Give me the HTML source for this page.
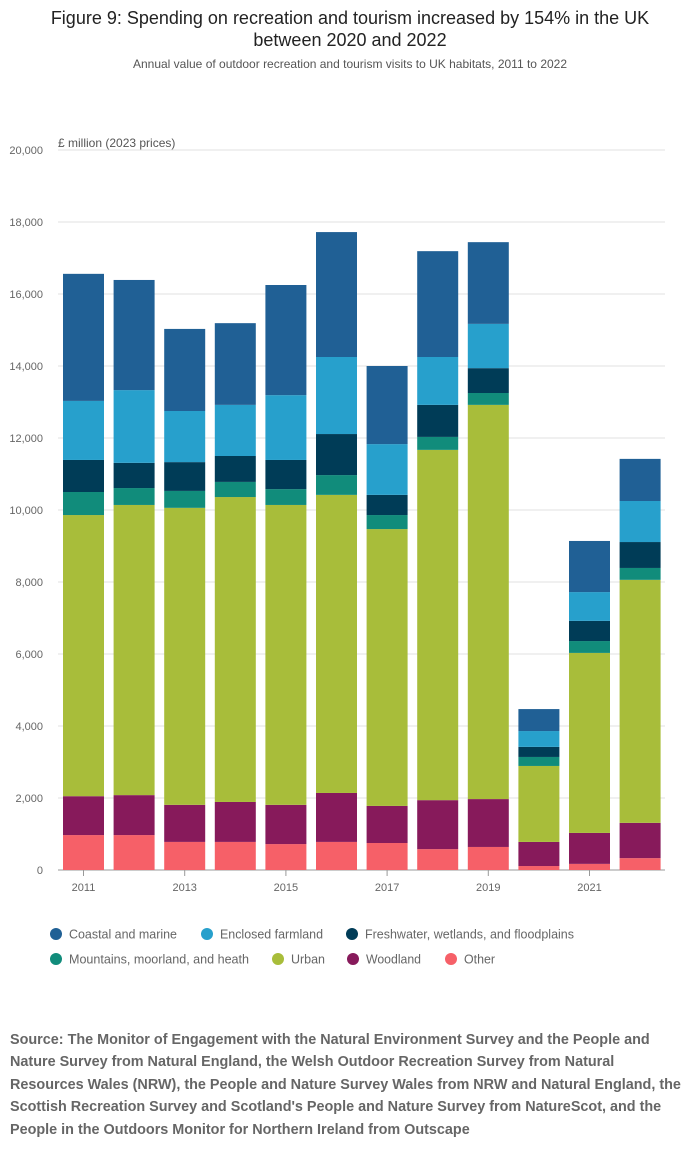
<!DOCTYPE html>
<html><head><meta charset="utf-8"><style>
body{margin:0;width:700px;height:1167px;background:#fff;font-family:"Liberation Sans",sans-serif;overflow:hidden}
svg text{font-family:"Liberation Sans",sans-serif}
</style></head><body>
<svg width="700" height="1167">
<text x="350" y="24" font-size="18" text-anchor="middle" fill="#222">Figure 9: Spending on recreation and tourism increased by 154% in the UK</text>
<text x="350" y="46" font-size="18" text-anchor="middle" fill="#222">between 2020 and 2022</text>
<text x="350" y="68" font-size="12" text-anchor="middle" fill="#555">Annual value of outdoor recreation and tourism visits to UK habitats, 2011 to 2022</text>
<text x="58" y="147" font-size="12" fill="#555">£ million (2023 prices)</text>
<g id="grid"></g><g id="bars"></g><g id="axes"></g><g id="legend"></g>
</svg>
<div style="position:absolute;left:10px;top:1029px;width:690px;font-size:14.4px;font-weight:bold;color:#666;line-height:22.4px;white-space:nowrap">Source: The Monitor of Engagement with the Natural Environment Survey and the People and<br>Nature Survey from Natural England, the Welsh Outdoor Recreation Survey from Natural<br>Resources Wales (NRW), the People and Nature Survey Wales from NRW and Natural England, the<br>Scottish Recreation Survey and Scotland's People and Nature Survey from NatureScot, and the<br>People in the Outdoors Monitor for Northern Ireland from Outscape</div>
<script>
const years=["2011","2012","2013","2014","2015","2016","2017","2018","2019","2020","2021","2022"];
const seriesNames=["Other","Woodland","Urban","Mountains, moorland, and heath","Freshwater, wetlands, and floodplains","Enclosed farmland","Coastal and marine"];
const other=[970,970,780,780,720,780,750,580,640,110,170,330];
const woodland=[1080,1110,1030,1110,1090,1360,1030,1360,1330,670,860,980];
const urban=[7810,8060,8250,8470,8330,8280,7690,9730,10950,2110,5000,6750];
const mountains=[640,470,470,420,440,550,390,360,330,250,330,330];
const freshwater=[890,700,800,720,810,1140,560,890,690,280,560,720];
const farmland=[1640,2020,1420,1420,1800,2140,1410,1330,1230,440,800,1140];
const coastal=[3530,3060,2280,2270,3060,3470,2170,2940,2270,610,1420,1170];
const yTicks=[0,2000,4000,6000,8000,10000,12000,14000,16000,18000,20000];
const colors=["#f66068","#871a5b","#a8bd3a","#118c7b","#003c57","#27a0cc","#206095"];
const series=[other,woodland,urban,mountains,freshwater,farmland,coastal];
const NS="http://www.w3.org/2000/svg";
const y=v=>870-v*0.036, x=i=>83.5+i*50.6, bw=41;
function mk(t,a,p){const e=document.createElementNS(NS,t);for(const k in a)e.setAttribute(k,a[k]);p.appendChild(e);return e;}
const g=document.getElementById('grid');
yTicks.forEach(v=>{
 const l=mk('line',{x1:58,x2:665,y1:y(v),y2:y(v),stroke:v?'#e0e0e0':'#999','stroke-width':1},g);
 
 
 const t=mk('text',{x:43,y:y(v)+4,'font-size':11,'text-anchor':'end',fill:'#666'},g);t.textContent=v.toLocaleString('en-GB');
 
 
});
const b=document.getElementById('bars');
years.forEach((yr,i)=>{let c=0;series.forEach((s,k)=>{
 const r=mk('rect',{x:x(i)-bw/2,y:y(c+s[i]),width:bw,height:s[i]*0.036,fill:colors[k]},b);
 
 
 c+=s[i];});});
const a=document.getElementById('axes');
years.forEach((yr,i)=>{
 if(i%2==0){mk('line',{x1:x(i),x2:x(i),y1:870,y2:876,stroke:'#999'},a);
 const t=mk('text',{x:x(i),y:891,'font-size':11,'text-anchor':'middle',fill:'#666'},a);t.textContent=yr;
 
 }
});
const lg=document.getElementById('legend');
const items=[[6,56,934,108],[5,207,934,103],[4,352,934,209],[3,56,959,180],[2,278,959,34],[1,353,959,55],[0,451,959,31]];
items.forEach(([k,lx,ly,w])=>{
 const gr=mk('g',{},lg);
 
 
 mk('circle',{cx:lx,cy:ly,r:6,fill:colors[k]},gr);
 const t=mk('text',{x:lx+13,y:ly+4.5,'font-size':12.5,fill:'#666',textLength:w,lengthAdjust:'spacingAndGlyphs'},gr);t.textContent=seriesNames[k];
});
</script>
</body></html>
